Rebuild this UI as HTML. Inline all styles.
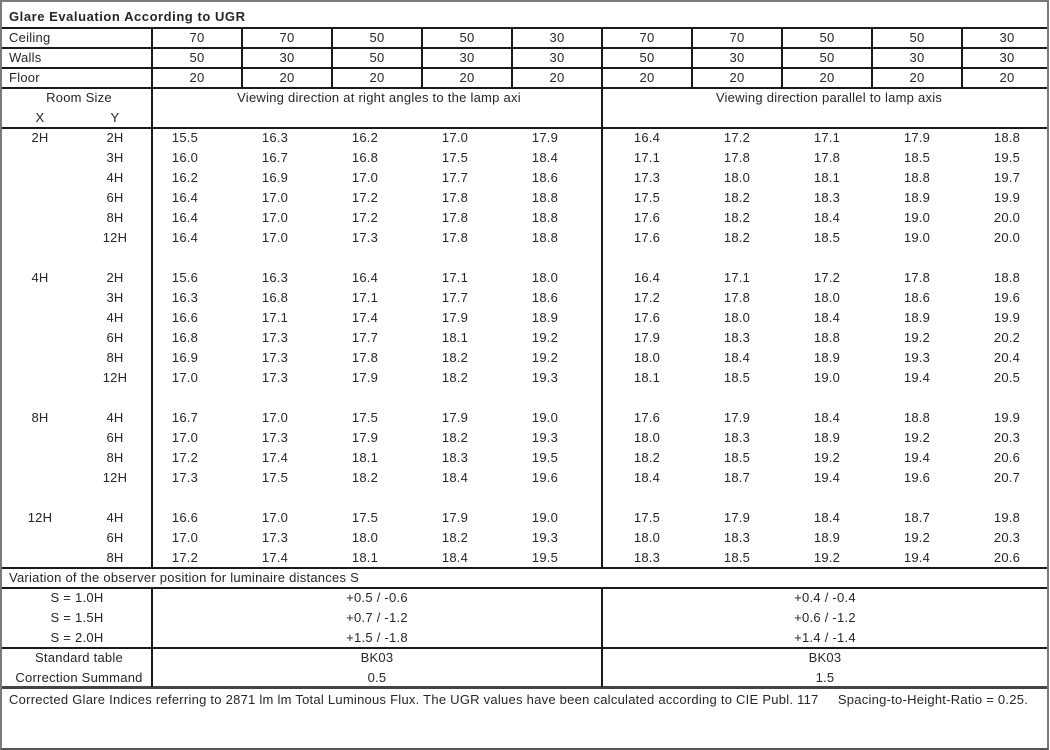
<!DOCTYPE html>
<html><head><meta charset="utf-8">
<style>
*{margin:0;padding:0;box-sizing:border-box}
html,body{width:1050px;height:750px;background:#fff;overflow:hidden}
body{position:relative;font-family:"Liberation Sans",Arial,sans-serif;font-size:13px;color:#262626}
.bd{position:absolute;left:0;top:0;width:1049px;height:750px;border:2px solid #7a7a7a;border-bottom-color:#555}
.h{position:absolute;left:2px;width:1045px;height:2px;background:#1a1a1a}
.v{position:absolute;width:2px;background:#1a1a1a}
.r{position:absolute;left:0;width:1050px;height:20px;line-height:20px;white-space:pre;letter-spacing:0.25px}
.r span{position:absolute;top:0;width:90px;text-align:center}
.t{position:absolute;left:9px}
b.t{letter-spacing:0.55px}
.x{left:0;width:80px!important}
.y{left:75px;width:80px!important}
.a1{left:140px}.a2{left:230px}.a3{left:320px}.a4{left:410px}.a5{left:500px}
.b1{left:602px}.b2{left:692px}.b3{left:782px}.b4{left:872px}.b5{left:962px}
.p1{left:152px}.p2{left:242px}.p3{left:332px}.p4{left:422px}.p5{left:512px}
.L{left:2px;width:150px!important}
.M{left:152px;width:450px!important}
.R{left:602px;width:446px!important}
</style></head><body>
<div class="bd"></div>

<div class="h" style="top:27px"></div>
<div class="h" style="top:47px"></div>
<div class="h" style="top:67px"></div>
<div class="h" style="top:87px"></div>
<div class="h" style="top:127px"></div>
<div class="h" style="top:567px"></div>
<div class="h" style="top:587px"></div>
<div class="h" style="top:647px"></div>
<div class="h" style="top:686px;height:3px;background:#444"></div>

<div class="v" style="left:151px;top:27px;height:541px"></div>
<div class="v" style="left:151px;top:587px;height:100px"></div>
<div class="v" style="left:601px;top:27px;height:540px"></div>
<div class="v" style="left:601px;top:587px;height:100px"></div>
<div class="v" style="left:241px;top:27px;height:60px"></div>
<div class="v" style="left:331px;top:27px;height:60px"></div>
<div class="v" style="left:421px;top:27px;height:60px"></div>
<div class="v" style="left:511px;top:27px;height:60px"></div>
<div class="v" style="left:691px;top:27px;height:60px"></div>
<div class="v" style="left:781px;top:27px;height:60px"></div>
<div class="v" style="left:871px;top:27px;height:60px"></div>
<div class="v" style="left:961px;top:27px;height:60px"></div>

<div class="r" style="top:7px"><b class="t">Glare Evaluation According to UGR</b></div>

<div class="r" style="top:28px"><span class="t" style="width:auto;text-align:left">Ceiling</span><span class="p1">70</span><span class="p2">70</span><span class="p3">50</span><span class="p4">50</span><span class="p5">30</span><span class="b1">70</span><span class="b2">70</span><span class="b3">50</span><span class="b4">50</span><span class="b5">30</span></div>
<div class="r" style="top:48px"><span class="t" style="width:auto;text-align:left">Walls</span><span class="p1">50</span><span class="p2">30</span><span class="p3">50</span><span class="p4">30</span><span class="p5">30</span><span class="b1">50</span><span class="b2">30</span><span class="b3">50</span><span class="b4">30</span><span class="b5">30</span></div>
<div class="r" style="top:68px"><span class="t" style="width:auto;text-align:left">Floor</span><span class="p1">20</span><span class="p2">20</span><span class="p3">20</span><span class="p4">20</span><span class="p5">20</span><span class="b1">20</span><span class="b2">20</span><span class="b3">20</span><span class="b4">20</span><span class="b5">20</span></div>

<div class="r" style="top:88px"><span class="L" style="left:4px">Room Size</span><span class="M" style="left:154px">Viewing direction at right angles to the lamp axi</span><span class="R" style="left:606px">Viewing direction parallel to lamp axis</span></div>
<div class="r" style="top:108px"><span class="x">X</span><span class="y">Y</span></div>

<div class="r" style="top:128px"><span class="x">2H</span><span class="y">2H</span><span class="a1">15.5</span><span class="a2">16.3</span><span class="a3">16.2</span><span class="a4">17.0</span><span class="a5">17.9</span><span class="b1">16.4</span><span class="b2">17.2</span><span class="b3">17.1</span><span class="b4">17.9</span><span class="b5">18.8</span></div>
<div class="r" style="top:148px"><span class="y">3H</span><span class="a1">16.0</span><span class="a2">16.7</span><span class="a3">16.8</span><span class="a4">17.5</span><span class="a5">18.4</span><span class="b1">17.1</span><span class="b2">17.8</span><span class="b3">17.8</span><span class="b4">18.5</span><span class="b5">19.5</span></div>
<div class="r" style="top:168px"><span class="y">4H</span><span class="a1">16.2</span><span class="a2">16.9</span><span class="a3">17.0</span><span class="a4">17.7</span><span class="a5">18.6</span><span class="b1">17.3</span><span class="b2">18.0</span><span class="b3">18.1</span><span class="b4">18.8</span><span class="b5">19.7</span></div>
<div class="r" style="top:188px"><span class="y">6H</span><span class="a1">16.4</span><span class="a2">17.0</span><span class="a3">17.2</span><span class="a4">17.8</span><span class="a5">18.8</span><span class="b1">17.5</span><span class="b2">18.2</span><span class="b3">18.3</span><span class="b4">18.9</span><span class="b5">19.9</span></div>
<div class="r" style="top:208px"><span class="y">8H</span><span class="a1">16.4</span><span class="a2">17.0</span><span class="a3">17.2</span><span class="a4">17.8</span><span class="a5">18.8</span><span class="b1">17.6</span><span class="b2">18.2</span><span class="b3">18.4</span><span class="b4">19.0</span><span class="b5">20.0</span></div>
<div class="r" style="top:228px"><span class="y">12H</span><span class="a1">16.4</span><span class="a2">17.0</span><span class="a3">17.3</span><span class="a4">17.8</span><span class="a5">18.8</span><span class="b1">17.6</span><span class="b2">18.2</span><span class="b3">18.5</span><span class="b4">19.0</span><span class="b5">20.0</span></div>

<div class="r" style="top:268px"><span class="x">4H</span><span class="y">2H</span><span class="a1">15.6</span><span class="a2">16.3</span><span class="a3">16.4</span><span class="a4">17.1</span><span class="a5">18.0</span><span class="b1">16.4</span><span class="b2">17.1</span><span class="b3">17.2</span><span class="b4">17.8</span><span class="b5">18.8</span></div>
<div class="r" style="top:288px"><span class="y">3H</span><span class="a1">16.3</span><span class="a2">16.8</span><span class="a3">17.1</span><span class="a4">17.7</span><span class="a5">18.6</span><span class="b1">17.2</span><span class="b2">17.8</span><span class="b3">18.0</span><span class="b4">18.6</span><span class="b5">19.6</span></div>
<div class="r" style="top:308px"><span class="y">4H</span><span class="a1">16.6</span><span class="a2">17.1</span><span class="a3">17.4</span><span class="a4">17.9</span><span class="a5">18.9</span><span class="b1">17.6</span><span class="b2">18.0</span><span class="b3">18.4</span><span class="b4">18.9</span><span class="b5">19.9</span></div>
<div class="r" style="top:328px"><span class="y">6H</span><span class="a1">16.8</span><span class="a2">17.3</span><span class="a3">17.7</span><span class="a4">18.1</span><span class="a5">19.2</span><span class="b1">17.9</span><span class="b2">18.3</span><span class="b3">18.8</span><span class="b4">19.2</span><span class="b5">20.2</span></div>
<div class="r" style="top:348px"><span class="y">8H</span><span class="a1">16.9</span><span class="a2">17.3</span><span class="a3">17.8</span><span class="a4">18.2</span><span class="a5">19.2</span><span class="b1">18.0</span><span class="b2">18.4</span><span class="b3">18.9</span><span class="b4">19.3</span><span class="b5">20.4</span></div>
<div class="r" style="top:368px"><span class="y">12H</span><span class="a1">17.0</span><span class="a2">17.3</span><span class="a3">17.9</span><span class="a4">18.2</span><span class="a5">19.3</span><span class="b1">18.1</span><span class="b2">18.5</span><span class="b3">19.0</span><span class="b4">19.4</span><span class="b5">20.5</span></div>

<div class="r" style="top:408px"><span class="x">8H</span><span class="y">4H</span><span class="a1">16.7</span><span class="a2">17.0</span><span class="a3">17.5</span><span class="a4">17.9</span><span class="a5">19.0</span><span class="b1">17.6</span><span class="b2">17.9</span><span class="b3">18.4</span><span class="b4">18.8</span><span class="b5">19.9</span></div>
<div class="r" style="top:428px"><span class="y">6H</span><span class="a1">17.0</span><span class="a2">17.3</span><span class="a3">17.9</span><span class="a4">18.2</span><span class="a5">19.3</span><span class="b1">18.0</span><span class="b2">18.3</span><span class="b3">18.9</span><span class="b4">19.2</span><span class="b5">20.3</span></div>
<div class="r" style="top:448px"><span class="y">8H</span><span class="a1">17.2</span><span class="a2">17.4</span><span class="a3">18.1</span><span class="a4">18.3</span><span class="a5">19.5</span><span class="b1">18.2</span><span class="b2">18.5</span><span class="b3">19.2</span><span class="b4">19.4</span><span class="b5">20.6</span></div>
<div class="r" style="top:468px"><span class="y">12H</span><span class="a1">17.3</span><span class="a2">17.5</span><span class="a3">18.2</span><span class="a4">18.4</span><span class="a5">19.6</span><span class="b1">18.4</span><span class="b2">18.7</span><span class="b3">19.4</span><span class="b4">19.6</span><span class="b5">20.7</span></div>

<div class="r" style="top:508px"><span class="x">12H</span><span class="y">4H</span><span class="a1">16.6</span><span class="a2">17.0</span><span class="a3">17.5</span><span class="a4">17.9</span><span class="a5">19.0</span><span class="b1">17.5</span><span class="b2">17.9</span><span class="b3">18.4</span><span class="b4">18.7</span><span class="b5">19.8</span></div>
<div class="r" style="top:528px"><span class="y">6H</span><span class="a1">17.0</span><span class="a2">17.3</span><span class="a3">18.0</span><span class="a4">18.2</span><span class="a5">19.3</span><span class="b1">18.0</span><span class="b2">18.3</span><span class="b3">18.9</span><span class="b4">19.2</span><span class="b5">20.3</span></div>
<div class="r" style="top:548px"><span class="y">8H</span><span class="a1">17.2</span><span class="a2">17.4</span><span class="a3">18.1</span><span class="a4">18.4</span><span class="a5">19.5</span><span class="b1">18.3</span><span class="b2">18.5</span><span class="b3">19.2</span><span class="b4">19.4</span><span class="b5">20.6</span></div>

<div class="r" style="top:568px"><span class="t" style="width:auto;text-align:left">Variation of the observer position for luminaire distances S</span></div>
<div class="r" style="top:588px"><span class="L">S = 1.0H</span><span class="M">+0.5 / -0.6</span><span class="R">+0.4 / -0.4</span></div>
<div class="r" style="top:608px"><span class="L">S = 1.5H</span><span class="M">+0.7 / -1.2</span><span class="R">+0.6 / -1.2</span></div>
<div class="r" style="top:628px"><span class="L">S = 2.0H</span><span class="M">+1.5 / -1.8</span><span class="R">+1.4 / -1.4</span></div>
<div class="r" style="top:648px"><span class="L" style="left:4px">Standard table</span><span class="M">BK03</span><span class="R">BK03</span></div>
<div class="r" style="top:668px"><span class="L" style="left:4px">Correction Summand</span><span class="M">0.5</span><span class="R">1.5</span></div>

<div class="r" style="top:690px"><span class="t" style="width:auto;text-align:left">Corrected Glare Indices referring to 2871 lm lm Total Luminous Flux. The UGR values have been calculated according to CIE Publ. 117     Spacing-to-Height-Ratio = 0.25.</span></div>
</body></html>
